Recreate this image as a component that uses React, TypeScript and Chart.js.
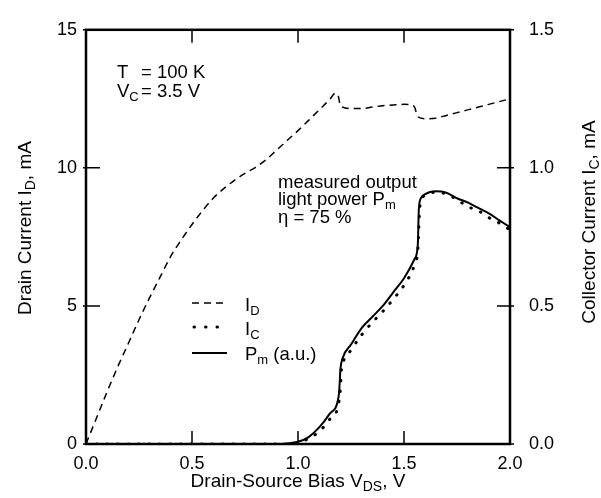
import React, { useEffect, useRef } from 'react';
import { Chart, registerables } from 'chart.js';

Chart.register(...registerables);

// Drain current I_D (mA, left axis) vs V_DS (V)
const vdsID = [0, 0.05, 0.1, 0.15, 0.2, 0.25, 0.3, 0.35, 0.4, 0.45, 0.5, 0.55, 0.6, 0.65, 0.7, 0.75, 0.8, 0.85, 0.9, 0.95, 1.0, 1.05, 1.1, 1.15, 1.175, 1.19, 1.2, 1.25, 1.3, 1.35, 1.4, 1.45, 1.5, 1.53, 1.55, 1.565, 1.6, 1.65, 1.7, 1.8, 1.9, 2.0];
const idValues = [0, 0.95, 1.9, 2.8, 3.65, 4.5, 5.3, 6.05, 6.8, 7.4, 7.95, 8.45, 8.9, 9.25, 9.55, 9.8, 10.02, 10.3, 10.65, 11.0, 11.35, 11.72, 12.1, 12.48, 12.7, 12.6, 12.25, 12.15, 12.15, 12.2, 12.25, 12.28, 12.3, 12.28, 12.2, 11.85, 11.78, 11.8, 11.9, 12.1, 12.3, 12.5];

// Collector current I_C (mA, right axis)
const vdsIC = [0, 0.5, 0.95, 1.0, 1.05, 1.1, 1.15, 1.19, 1.2, 1.205, 1.21, 1.25, 1.3, 1.35, 1.4, 1.45, 1.5, 1.55, 1.565, 1.575, 1.585, 1.6, 1.65, 1.7, 1.75, 1.8, 1.85, 1.9, 1.95, 2.0];
const icValues = [0, 0, 0, 0.005, 0.02, 0.045, 0.09, 0.14, 0.2, 0.27, 0.29, 0.34, 0.395, 0.44, 0.48, 0.525, 0.575, 0.65, 0.7, 0.86, 0.89, 0.9, 0.912, 0.905, 0.885, 0.86, 0.845, 0.82, 0.8, 0.775];

// Measured light power P_m (a.u., right axis scale)
const vdsPm = [0, 0.5, 0.9, 0.95, 1.0, 1.05, 1.1, 1.15, 1.19, 1.195, 1.2, 1.21, 1.25, 1.3, 1.35, 1.4, 1.45, 1.5, 1.55, 1.565, 1.57, 1.58, 1.6, 1.65, 1.7, 1.75, 1.8, 1.85, 1.9, 1.95, 2.0];
const pmValues = [0, 0, 0, 0.002, 0.008, 0.025, 0.06, 0.11, 0.165, 0.2, 0.27, 0.31, 0.36, 0.42, 0.46, 0.5, 0.55, 0.6, 0.67, 0.72, 0.85, 0.89, 0.905, 0.915, 0.91, 0.89, 0.875, 0.855, 0.835, 0.81, 0.785];

const xTickValues = [0, 0.5, 1.0, 1.5, 2.0];
const yLeftTickValues = [0, 5, 10, 15];
const yRightTickValues = [0, 0.5, 1.0, 1.5];

const FONT = '"Liberation Sans", Arial, Helvetica, sans-serif';

type Part = { t: string; sub?: boolean };

function drawRich(ctx: CanvasRenderingContext2D, x: number, y: number, parts: Part[], align: 'left' | 'center' = 'left', size = 18.5) {
  const subSize = Math.round(size * 0.72);
  let w = 0;
  for (const p of parts) {
    ctx.font = `${p.sub ? subSize : size}px ${FONT}`;
    w += ctx.measureText(p.t).width;
  }
  let cx = align === 'center' ? x - w / 2 : x;
  ctx.textAlign = 'left';
  ctx.textBaseline = 'alphabetic';
  for (const p of parts) {
    ctx.font = `${p.sub ? subSize : size}px ${FONT}`;
    ctx.fillText(p.t, cx, p.sub ? y + 4 : y);
    cx += ctx.measureText(p.t).width;
  }
}

const decorPlugin = {
  id: 'decor',
  afterDraw(chart: any) {
    const ctx: CanvasRenderingContext2D = chart.ctx;
    const { left, right, top, bottom } = chart.chartArea;
    const xs = chart.scales.x;
    const yl = chart.scales.y;
    const yr = chart.scales.y1;
    ctx.save();
    ctx.strokeStyle = '#000';
    ctx.fillStyle = '#000';
    ctx.lineWidth = 2.5;
    ctx.setLineDash([]);
    ctx.strokeRect(left, top, right - left, bottom - top);

    ctx.lineWidth = 1.5;
    ctx.beginPath();
    for (const v of xTickValues.slice(1, -1)) {
      const px = xs.getPixelForValue(v);
      ctx.moveTo(px, bottom);
      ctx.lineTo(px, bottom - 13);
      ctx.moveTo(px, top);
      ctx.lineTo(px, top + 13);
    }
    for (const v of yLeftTickValues) {
      const py = yl.getPixelForValue(v);
      ctx.moveTo(left - 3, py);
      ctx.lineTo(v === 0 || v === 15 ? left : left + 14, py);
    }
    for (const v of yRightTickValues) {
      const py = yr.getPixelForValue(v);
      ctx.moveTo(right + 4, py);
      ctx.lineTo(v === 0 || v === 1.5 ? right : right - 13, py);
    }
    ctx.stroke();

    // Axis titles
    drawRich(ctx, (left + right) / 2, 487, [{ t: 'Drain-Source Bias V' }, { t: 'DS', sub: true }, { t: ', V' }], 'center', 19);
    ctx.save();
    ctx.translate(31, 228);
    ctx.rotate(-Math.PI / 2);
    drawRich(ctx, 0, 0, [{ t: 'Drain Current I' }, { t: 'D', sub: true }, { t: ', mA' }], 'center', 19);
    ctx.restore();
    ctx.save();
    ctx.translate(595, 222);
    ctx.rotate(-Math.PI / 2);
    drawRich(ctx, 0, 0, [{ t: 'Collector Current I' }, { t: 'C', sub: true }, { t: ', mA' }], 'center', 19);
    ctx.restore();

    // Annotations
    drawRich(ctx, 117, 78, [{ t: 'T' }]);
    drawRich(ctx, 141, 78, [{ t: '= 100 K' }]);
    drawRich(ctx, 117, 97, [{ t: 'V' }, { t: 'C', sub: true }]);
    drawRich(ctx, 141, 97, [{ t: '= 3.5 V' }]);
    drawRich(ctx, 278, 188, [{ t: 'measured output' }]);
    drawRich(ctx, 278, 205, [{ t: 'light power P' }, { t: 'm', sub: true }]);
    drawRich(ctx, 278, 223, [{ t: 'η = 75 %' }]);

    // Legend
    const lx0 = 192, lx1 = 227;
    ctx.lineCap = 'butt';
    ctx.lineWidth = 1.5;
    ctx.setLineDash([7, 5]);
    ctx.beginPath(); ctx.moveTo(lx0, 303); ctx.lineTo(lx1, 303); ctx.stroke();
    ctx.lineWidth = 3;
    ctx.lineCap = 'round';
    ctx.setLineDash([0.5, 11]);
    ctx.beginPath(); ctx.moveTo(lx0 + 2, 327); ctx.lineTo(lx1, 327); ctx.stroke();
    ctx.lineCap = 'butt';
    ctx.lineWidth = 2;
    ctx.setLineDash([]);
    ctx.beginPath(); ctx.moveTo(lx0, 353); ctx.lineTo(lx1, 353); ctx.stroke();
    drawRich(ctx, 245, 311, [{ t: 'I' }, { t: 'D', sub: true }]);
    drawRich(ctx, 245, 335, [{ t: 'I' }, { t: 'C', sub: true }]);
    drawRich(ctx, 245, 360, [{ t: 'P' }, { t: 'm', sub: true }, { t: ' (a.u.)' }]);
    ctx.restore();
  },
};

function pts(xs: number[], ys: number[]) {
  return xs.map((x, i) => ({ x, y: ys[i] }));
}

export default function App() {
  const ref = useRef<HTMLCanvasElement>(null);
  useEffect(() => {
    if (!ref.current) return;
    const tickFont = { family: FONT, size: 18 };
    const chart = new Chart(ref.current, {
      type: 'line',
      data: {
        datasets: [
          {
            label: 'I_D',
            data: pts(vdsID, idValues),
            yAxisID: 'y',
            borderColor: '#000',
            borderWidth: 1.5,
            borderDash: [7, 5],
            pointRadius: 0,
            cubicInterpolationMode: 'monotone',
          },
          {
            label: 'I_C',
            data: pts(vdsIC, icValues),
            yAxisID: 'y1',
            borderColor: '#000',
            borderWidth: 3,
            borderDash: [0.5, 10],
            borderCapStyle: 'round',
            pointRadius: 0,
            cubicInterpolationMode: 'monotone',
          },
          {
            label: 'P_m',
            data: pts(vdsPm, pmValues),
            yAxisID: 'y1',
            borderColor: '#000',
            borderWidth: 2,
            pointRadius: 0,
            cubicInterpolationMode: 'monotone',
          },
        ],
      },
      options: {
        animation: false,
        responsive: false,
        maintainAspectRatio: false,
        layout: { padding: { left: 0, right: 0, top: 20, bottom: 0 } },
        plugins: { legend: { display: false }, tooltip: { enabled: false }, title: { display: false } },
        scales: {
          x: {
            type: 'linear',
            position: 'bottom',
            min: 0,
            max: 2,
            grid: { display: false, drawTicks: false },
            border: { display: false },
            ticks: {
              stepSize: 0.5,
              padding: 9,
              color: '#000',
              font: tickFont,
              maxRotation: 0,
              callback: (v: any) => Number(v).toFixed(1),
            },
            afterFit: (s: any) => { s.height = 54; },
          },
          y: {
            type: 'linear',
            position: 'left',
            min: 0,
            max: 15,
            grid: { display: false, drawTicks: false },
            border: { display: false },
            ticks: { stepSize: 5, padding: 9, color: '#000', font: tickFont },
            afterFit: (s: any) => { s.width = 86; },
          },
          y1: {
            type: 'linear',
            position: 'right',
            min: 0,
            max: 1.5,
            grid: { display: false, drawTicks: false },
            border: { display: false },
            ticks: {
              stepSize: 0.5,
              padding: 19,
              color: '#000',
              font: tickFont,
              callback: (v: any) => Number(v).toFixed(1),
            },
            afterFit: (s: any) => { s.width = 91; },
          },
        },
      } as any,
      plugins: [decorPlugin],
    });
    return () => chart.destroy();
  }, []);
  return (
    <div style={{ position: 'fixed', left: 0, top: 0, width: 601, height: 498, background: '#fff' }}>
      <canvas ref={ref} width={601} height={498} style={{ width: 601, height: 498 }} />
    </div>
  );
}
